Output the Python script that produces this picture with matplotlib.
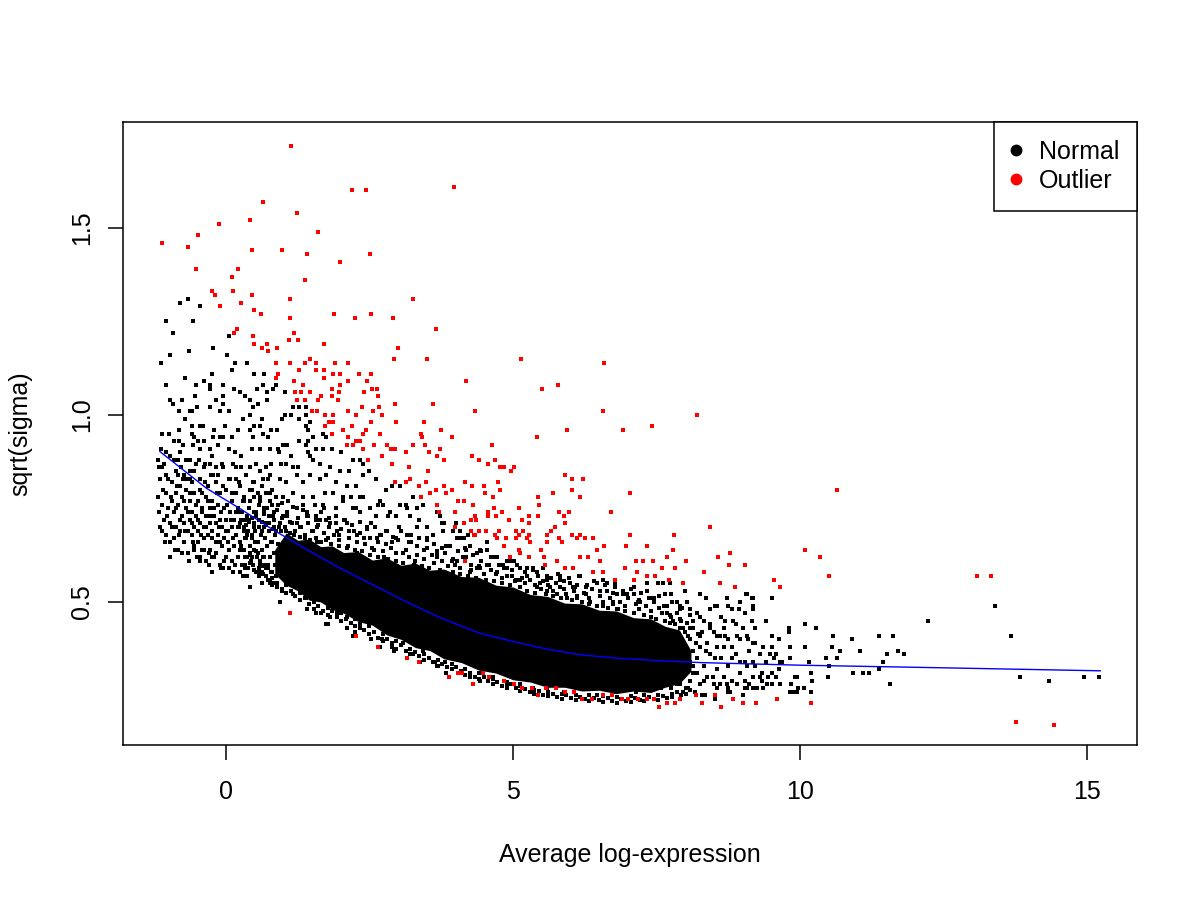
import numpy as np
import matplotlib
matplotlib.use("Agg")
import matplotlib.pyplot as plt
from matplotlib.lines import Line2D

plt.rcParams['font.family'] = ['Liberation Sans', 'DejaVu Sans']

# --- data ----------------------------------------------------------------

# overplotted core of the normal genes (solid black in the original)
core_x = [0.85, 1.05, 1.25, 1.45, 1.65, 1.85, 2.05, 2.30, 2.55, 2.80,
          3.05, 3.30, 3.55, 3.80, 4.10, 4.40, 4.70, 5.00, 5.30, 5.60,
          5.90, 6.20, 6.50, 6.80, 7.10, 7.40, 7.65, 7.90, 8.10]
core_lo = [0.575, 0.545, 0.53, 0.505, 0.50, 0.48, 0.47, 0.448, 0.438, 0.412,
           0.40, 0.378, 0.37, 0.348, 0.338, 0.318, 0.31, 0.292, 0.286, 0.272,
           0.272, 0.262, 0.264, 0.255, 0.262, 0.258, 0.272, 0.282, 0.315]
core_hi = [0.64, 0.685, 0.665, 0.668, 0.648, 0.65, 0.632, 0.635, 0.612, 0.618,
           0.598, 0.604, 0.585, 0.588, 0.568, 0.566, 0.545, 0.54, 0.52, 0.515,
           0.497, 0.495, 0.478, 0.476, 0.458, 0.455, 0.435, 0.425, 0.37]

# normal genes, upper left spread
normal_upper_left = [
    (-0.93, 1.22), (-0.97, 1.16), (-0.64, 1.17), (-1.14, 1.14), (0.02, 1.16),
    (0.15, 1.14), (0.36, 1.14), (-0.23, 1.18), (0.06, 1.21), (-0.24, 1.11),
    (-0.72, 1.10), (-1.05, 1.08), (0.11, 1.12), (0.48, 1.11), (0.67, 1.11),
    (-0.38, 1.09), (-0.27, 1.08), (-0.27, 1.07), (-0.52, 1.08), (-0.05, 1.08),
    (0.14, 1.07), (0.24, 1.06), (-0.06, 1.05), (-0.97, 1.04), (-0.92, 1.03),
    (-0.77, 1.04), (-0.54, 1.05), (-0.51, 1.02), (-0.17, 1.04), (-0.05, 1.03),
    (0.33, 1.05), (0.41, 1.04), (0.54, 1.07), (0.71, 1.06), (0.71, 1.04),
    (0.65, 1.08), (0.82, 1.07), (0.87, 1.08), (1.02, 1.06), (-0.81, 1.01),
    (-0.63, 1.01), (-0.60, 1.01), (-0.28, 1.02), (-0.11, 1.01), (0.05, 1.01),
    (0.30, 0.99), (0.41, 1.00), (0.47, 1.02), (0.56, 1.03), (0.62, 0.99),
    (1.03, 1.00), (0.98, 0.99), (1.17, 1.02), (1.27, 1.02), (1.39, 1.02),
    (1.14, 1.00), (1.27, 0.99), (1.40, 1.00), (1.46, 0.98), (-0.72, 0.99),
    (-0.60, 0.97), (-0.46, 0.97), (-0.40, 0.97), (-0.20, 0.96), (-0.01, 0.97),
    (0.21, 0.96), (0.41, 0.96), (0.48, 0.97), (0.59, 0.97), (0.78, 0.96),
    (0.89, 0.96), (1.39, 0.97), (1.43, 0.96), (-0.81, 0.96), (-0.60, 0.95),
    (-0.55, 0.94), (-0.49, 0.93), (-0.39, 0.93), (-0.23, 0.94), (-0.11, 0.94),
    (-0.05, 0.94), (0.11, 0.94), (0.47, 0.94), (0.64, 0.95), (0.73, 0.94),
    (0.99, 0.92), (1.07, 0.92), (1.28, 0.93), (1.43, 0.93), (1.52, 0.94),
    (1.69, 0.95), (1.75, 0.94), (-0.82, 0.93), (-0.75, 0.92), (-0.57, 0.92),
    (-0.45, 0.91), (-0.28, 0.91), (-0.14, 0.92), (0.05, 0.91), (0.15, 0.90),
    (0.27, 0.89), (0.46, 0.91), (0.59, 0.91), (0.76, 0.91), (0.91, 0.91),
    (0.92, 0.90), (1.14, 0.89), (1.40, 0.92), (1.43, 0.90), (1.57, 0.91),
    (1.69, 0.91), (1.84, 0.91), (2.01, 0.90), (2.21, 0.88), (2.33, 0.88),
    (-1.11, 0.86), (-0.84, 0.88), (-0.63, 0.88), (-0.47, 0.88), (-0.37, 0.87),
    (-0.28, 0.87), (-0.17, 0.86), (-0.05, 0.86), (0.12, 0.87), (0.27, 0.86),
    (0.41, 0.86), (0.53, 0.87), (0.70, 0.86), (0.79, 0.87), (0.96, 0.87),
    (1.05, 0.87), (1.17, 0.86), (1.26, 0.86), (1.46, 0.89), (1.52, 0.88),
    (1.63, 0.87), (1.81, 0.86), (1.98, 0.85), (2.15, 0.85), (2.39, 0.87),
    (2.50, 0.85), (-0.84, 0.84), (-0.75, 0.83), (-0.63, 0.83), (-0.45, 0.83),
    (-0.26, 0.84), (-0.14, 0.84), (0.06, 0.83), (0.18, 0.83), (0.35, 0.84),
    (0.47, 0.82), (0.64, 0.83), (0.76, 0.84), (0.94, 0.83), (1.05, 0.82),
    (1.23, 0.84), (1.34, 0.82), (1.46, 0.84), (1.63, 0.83), (1.75, 0.84),
    (1.92, 0.82), (2.10, 0.81), (2.27, 0.81), (2.39, 0.84), (2.62, 0.83),
    (2.79, 0.80), (2.90, 0.81), (-0.67, 1.31), (-0.80, 1.30), (-0.46, 1.29),
    (-1.04, 1.25), (-0.58, 1.25),
]

# normal genes, denser band on the left
normal_left_band = [
    (-1.17, 0.86), (-1.16, 0.74), (-1.13, 0.91), (-1.12, 0.69), (-1.09, 0.80),
    (-1.07, 0.66), (-1.05, 0.84), (-1.02, 0.73), (-1.00, 0.95), (-0.98, 0.62),
    (-0.96, 0.78), (-0.94, 0.70), (-0.91, 0.88), (-0.89, 0.64), (-0.87, 0.75),
    (-0.85, 0.81), (-0.82, 0.68), (-0.80, 0.72), (-0.78, 0.86), (-0.76, 0.63),
    (-0.73, 0.77), (-0.71, 0.69), (-0.69, 0.83), (-0.66, 0.74), (-0.64, 0.61),
    (-0.62, 0.79), (-0.59, 0.71), (-0.57, 0.66), (-0.55, 0.85), (-0.52, 0.76),
    (-0.50, 0.62), (-0.48, 0.72), (-0.45, 0.80), (-0.43, 0.68), (-0.41, 0.75),
    (-0.38, 0.64), (-0.36, 0.82), (-0.34, 0.70), (-0.31, 0.77), (-0.29, 0.60),
    (-0.27, 0.73), (-0.24, 0.67), (-0.22, 0.84), (-0.20, 0.75), (-0.17, 0.63),
    (-0.15, 0.79), (-0.13, 0.70), (-0.10, 0.66), (-0.08, 0.74), (-0.05, 0.81),
    (-0.03, 0.61), (0.00, 0.69), (0.02, 0.76), (0.05, 0.64), (0.08, 0.72),
    (0.10, 0.79), (0.13, 0.67), (0.15, 0.60), (0.18, 0.74), (0.21, 0.70),
    (0.23, 0.82), (0.26, 0.65), (0.29, 0.77), (0.31, 0.72), (0.34, 0.59),
    (0.37, 0.68), (0.40, 0.75), (0.42, 0.63), (0.45, 0.80), (0.48, 0.70),
    (0.51, 0.66), (0.53, 0.73), (0.56, 0.58), (0.59, 0.78), (0.62, 0.69),
    (0.64, 0.62), (0.67, 0.75), (0.70, 0.71), (0.73, 0.56), (0.76, 0.79),
    (0.79, 0.66), (0.82, 0.73), (0.85, 0.60), (0.88, 0.69), (0.91, 0.76),
    (0.94, 0.71), (1.00, 0.73), (1.04, 0.69), (1.08, 0.77), (1.11, 0.57),
    (1.15, 0.71), (1.19, 0.68), (1.23, 0.75), (1.30, 0.70), (1.34, 0.78),
    (1.38, 0.67), (1.42, 0.73), (1.50, 0.69), (1.55, 0.76), (1.59, 0.66),
    (1.64, 0.72), (1.73, 0.79), (1.77, 0.67), (1.82, 0.71), (1.87, 0.64),
    (1.92, 0.75), (1.97, 0.68), (2.07, 0.72), (2.12, 0.65), (2.17, 0.78),
    (2.23, 0.69), (2.28, 0.63), (2.34, 0.74), (2.40, 0.67), (2.52, 0.71),
    (2.58, 0.64), (2.64, 0.76), (2.70, 0.68), (2.76, 0.62), (2.82, 0.73),
    (2.89, 0.66), (3.02, 0.70), (3.09, 0.63), (3.16, 0.75), (3.23, 0.66),
    (3.30, 0.61), (3.37, 0.72), (3.45, 0.64), (3.60, 0.68), (3.68, 0.62),
    (3.76, 0.71), (3.85, 0.65), (3.94, 0.61), (4.03, 0.67), (3.03, 0.81),
    (3.26, 0.78), (3.14, 0.76), (3.43, 0.76), (3.72, 0.73), (4.01, 0.71),
    (2.97, 0.73), (3.32, 0.70), (3.78, 0.69), (4.07, 0.67), (2.74, 0.76),
    (2.62, 0.73), (2.39, 0.78), (2.27, 0.75), (2.04, 0.78), (1.92, 0.73),
    (1.69, 0.76), (1.57, 0.73), (4.08, 0.69), (4.15, 0.67), (4.21, 0.68),
]

# normal genes where the core thins out on the left
normal_core_left = [
    (0.30, 0.64), (0.33, 0.67), (0.36, 0.62), (0.38, 0.69), (0.41, 0.65),
    (0.44, 0.61), (0.46, 0.67), (0.49, 0.64), (0.51, 0.69), (0.54, 0.62),
    (0.56, 0.66), (0.59, 0.60), (0.61, 0.68), (0.63, 0.64), (0.66, 0.62),
    (0.68, 0.67), (0.70, 0.59), (0.72, 0.65), (0.75, 0.69), (0.77, 0.62),
    (0.79, 0.58), (0.80, 0.66), (0.83, 0.63), (0.86, 0.68), (0.88, 0.60),
    (0.91, 0.655), (0.93, 0.62), (0.96, 0.69), (0.98, 0.59), (1.01, 0.64),
    (0.35, 0.705), (0.47, 0.60), (0.58, 0.70), (0.65, 0.595), (0.74, 0.60),
    (0.82, 0.695), (0.90, 0.575), (0.52, 0.635), (0.42, 0.625), (0.69, 0.705),
]

# more normal genes on the far left
normal_left_extra = [
    (-1.19, 0.78), (-1.19, 0.88), (-1.15, 0.70), (-1.15, 0.83), (-1.12, 0.76),
    (-1.12, 0.95), (-1.08, 0.72), (-1.08, 0.87), (-1.05, 0.68), (-1.05, 0.79),
    (-1.05, 0.90), (-1.01, 0.75), (-1.01, 0.83), (-0.98, 0.66), (-0.98, 0.71),
    (-0.98, 0.89), (-0.94, 0.77), (-0.94, 0.82), (-0.91, 0.67), (-0.91, 0.74),
    (-0.91, 0.93), (-0.87, 0.70), (-0.87, 0.79), (-0.87, 0.85), (-0.84, 0.64),
    (-0.84, 0.76), (-0.80, 0.69), (-0.80, 0.81), (-0.80, 0.90), (-0.77, 0.73),
    (-0.77, 0.78), (-0.73, 0.66), (-0.73, 0.71), (-0.73, 0.84), (-0.70, 0.75),
    (-0.70, 0.80), (-0.70, 0.88), (-0.66, 0.63), (-0.66, 0.69), (-0.63, 0.72),
    (-0.63, 0.77), (-0.63, 0.85), (-0.59, 0.68), (-0.59, 0.74), (-0.59, 0.82),
    (-0.56, 0.64), (-0.56, 0.70), (-0.56, 0.79), (-0.52, 0.73), (-0.52, 0.87),
    (-0.49, 0.66), (-0.49, 0.69), (-0.49, 0.77), (-0.45, 0.62), (-0.45, 0.71),
    (-0.45, 0.83), (-0.42, 0.74), (-0.42, 0.79), (-0.38, 0.67), (-0.38, 0.70),
    (-0.38, 0.86), (-0.35, 0.61), (-0.35, 0.73), (-0.35, 0.78), (-0.31, 0.68),
    (-0.31, 0.81), (-0.28, 0.64), (-0.28, 0.71), (-0.28, 0.75), (-0.24, 0.69),
    (-0.24, 0.77), (-0.24, 0.89), (-0.21, 0.62), (-0.21, 0.73), (-0.17, 0.66),
    (-0.17, 0.71), (-0.17, 0.82), (-0.14, 0.68), (-0.14, 0.76), (-0.10, 0.60),
    (-0.10, 0.72), (-0.10, 0.79), (-0.07, 0.65), (-0.07, 0.70), (-0.07, 0.87),
    (-0.03, 0.67), (-0.03, 0.75), (0.00, 0.62), (0.00, 0.72), (0.00, 0.80),
    (0.04, 0.66), (0.04, 0.69), (0.07, 0.74), (0.07, 0.83), (0.11, 0.61),
    (0.11, 0.70), (0.11, 0.77), (0.14, 0.65), (0.14, 0.72), (0.18, 0.68),
    (0.18, 0.79), (0.18, 0.86), (0.21, 0.62), (0.21, 0.75), (0.25, 0.66),
    (0.25, 0.71), (0.25, 0.81), (0.28, 0.60), (0.28, 0.74), (0.32, 0.64),
    (0.32, 0.69), (0.32, 0.78), (0.35, 0.67), (0.35, 0.84), (0.39, 0.59),
    (0.39, 0.72), (0.42, 0.65), (0.42, 0.77), (0.42, 0.80), (0.46, 0.62),
    (0.46, 0.68), (0.49, 0.74), (0.49, 0.82), (0.53, 0.58), (0.53, 0.66),
    (0.56, 0.63), (0.56, 0.79), (0.60, 0.61), (0.60, 0.77), (0.60, 0.85),
    (0.63, 0.58), (0.63, 0.81), (0.67, 0.60), (0.67, 0.74), (0.70, 0.57),
    (0.70, 0.79), (0.74, 0.59), (0.74, 0.83), (0.77, 0.56), (0.77, 0.77),
    (0.81, 0.58), (0.81, 0.80), (0.84, 0.55), (0.84, 0.74), (0.88, 0.57),
    (0.88, 0.78),
]

# normal genes just above the core
normal_core_top = [
    (0.22, 0.70), (0.22, 0.74), (0.27, 0.72), (0.31, 0.70), (0.31, 0.77),
    (0.36, 0.73), (0.40, 0.715), (0.40, 0.75), (0.45, 0.725), (0.49, 0.71),
    (0.49, 0.78), (0.53, 0.74), (0.58, 0.72), (0.58, 0.76), (0.62, 0.715),
    (0.66, 0.735), (0.66, 0.70), (0.71, 0.75), (0.75, 0.71), (0.75, 0.73),
    (0.80, 0.76), (0.84, 0.70), (0.84, 0.72), (0.89, 0.745), (0.93, 0.70),
    (0.98, 0.725), (0.98, 0.765), (1.02, 0.70), (1.07, 0.74), (1.11, 0.685),
    (1.11, 0.715), (1.16, 0.755), (1.20, 0.69), (1.25, 0.725), (1.29, 0.675),
    (1.29, 0.70), (1.34, 0.745), (1.38, 0.68), (1.43, 0.71), (1.43, 0.73),
    (1.47, 0.665), (1.52, 0.69), (1.56, 0.72), (1.56, 0.67), (1.61, 0.705),
    (1.65, 0.66), (1.65, 0.74), (1.70, 0.685), (1.74, 0.665), (1.79, 0.70),
    (1.79, 0.725), (1.83, 0.655), (1.88, 0.68), (1.92, 0.71), (1.97, 0.65),
    (1.97, 0.665), (2.01, 0.695), (2.06, 0.72), (2.10, 0.645), (2.15, 0.67),
    (2.15, 0.69), (2.19, 0.705), (2.24, 0.64), (2.28, 0.66), (2.33, 0.685),
    (2.33, 0.715), (2.37, 0.635), (2.42, 0.655), (2.46, 0.695), (2.51, 0.625),
    (2.51, 0.67), (2.55, 0.645), (2.60, 0.70), (2.64, 0.62), (2.64, 0.66),
    (2.69, 0.68), (2.73, 0.635), (2.78, 0.655), (2.78, 0.69), (2.82, 0.615),
    (2.87, 0.645), (2.91, 0.675), (2.96, 0.61), (2.96, 0.63), (3.00, 0.665),
    (3.05, 0.69), (3.09, 0.605), (3.14, 0.64), (3.18, 0.66), (3.18, 0.62),
    (3.23, 0.68), (3.27, 0.60), (3.32, 0.625), (3.32, 0.65), (3.36, 0.67),
    (3.41, 0.595), (3.45, 0.615), (3.50, 0.645), (3.50, 0.665), (3.54, 0.59),
    (3.59, 0.625), (3.63, 0.605), (3.63, 0.655), (3.68, 0.635), (3.72, 0.585),
    (3.77, 0.61), (3.77, 0.645), (3.81, 0.63), (3.86, 0.595), (3.90, 0.65),
    (3.95, 0.58), (3.95, 0.615), (3.99, 0.60), (4.04, 0.635), (4.08, 0.575),
    (4.08, 0.59), (4.13, 0.62), (4.17, 0.645), (4.22, 0.57), (4.26, 0.60),
    (4.26, 0.585), (4.31, 0.625), (4.35, 0.565), (4.40, 0.595), (4.44, 0.61),
    (4.44, 0.635), (4.49, 0.575), (4.53, 0.56), (4.58, 0.60), (4.62, 0.585),
    (4.62, 0.62), (4.67, 0.555), (4.71, 0.575), (4.76, 0.60), (4.80, 0.55),
    (4.80, 0.565), (4.85, 0.59), (4.89, 0.61), (4.94, 0.545), (4.98, 0.57),
    (4.98, 0.585), (5.03, 0.555), (5.07, 0.60), (5.12, 0.54), (5.16, 0.565),
    (5.21, 0.58), (5.21, 0.55), (5.25, 0.53), (5.30, 0.56), (5.34, 0.585),
    (5.39, 0.525), (5.39, 0.545), (5.43, 0.57), (5.48, 0.535), (5.52, 0.555),
    (5.52, 0.59), (5.57, 0.52), (5.61, 0.545), (5.66, 0.565), (5.70, 0.515),
    (5.70, 0.53), (5.75, 0.55), (5.79, 0.575), (5.84, 0.51), (5.88, 0.535),
    (5.88, 0.555), (5.93, 0.52), (5.97, 0.565), (6.02, 0.505), (6.06, 0.53),
    (6.11, 0.545), (6.11, 0.515), (6.15, 0.57), (6.20, 0.50), (6.24, 0.525),
    (6.29, 0.545), (6.33, 0.495), (6.33, 0.51), (6.38, 0.535), (6.42, 0.555),
    (6.47, 0.49), (6.51, 0.515), (6.51, 0.53), (6.56, 0.50), (6.60, 0.545),
    (6.65, 0.485), (6.69, 0.51), (6.74, 0.525), (6.74, 0.495), (6.78, 0.54),
    (6.83, 0.48), (6.87, 0.50), (6.92, 0.52), (6.96, 0.475), (6.96, 0.49),
    (7.01, 0.51), (7.05, 0.535), (7.10, 0.47), (7.14, 0.495), (7.19, 0.505),
    (7.19, 0.48), (7.23, 0.525), (7.28, 0.465), (7.32, 0.49), (7.37, 0.51),
    (7.41, 0.46), (7.41, 0.475), (7.46, 0.50), (7.50, 0.455), (7.55, 0.485),
    (7.55, 0.515), (7.59, 0.47), (7.64, 0.45), (7.68, 0.49), (7.73, 0.465),
    (7.73, 0.445), (7.77, 0.50), (7.82, 0.44), (7.86, 0.47), (7.91, 0.43),
    (7.91, 0.455), (7.95, 0.485), (8.00, 0.42), (8.04, 0.445), (8.09, 0.40),
    (8.09, 0.465), (8.13, 0.43), (8.18, 0.39), (8.22, 0.415),
]

# normal genes just below the core
normal_core_bottom = [
    (0.25, 0.64), (0.33, 0.62), (0.33, 0.60), (0.41, 0.605), (0.49, 0.585),
    (0.57, 0.59), (0.57, 0.57), (0.65, 0.575), (0.73, 0.56), (0.81, 0.565),
    (0.81, 0.545), (0.89, 0.55), (0.97, 0.535), (1.05, 0.545), (1.05, 0.525),
    (1.13, 0.53), (1.21, 0.515), (1.29, 0.525), (1.29, 0.505), (1.37, 0.51),
    (1.45, 0.495), (1.53, 0.50), (1.53, 0.48), (1.61, 0.49), (1.69, 0.475),
    (1.77, 0.485), (1.77, 0.465), (1.85, 0.475), (1.93, 0.46), (2.01, 0.47),
    (2.01, 0.45), (2.09, 0.455), (2.17, 0.445), (2.25, 0.455), (2.25, 0.435),
    (2.33, 0.44), (2.41, 0.425), (2.49, 0.435), (2.49, 0.415), (2.57, 0.42),
    (2.65, 0.405), (2.73, 0.415), (2.73, 0.395), (2.81, 0.40), (2.89, 0.39),
    (2.97, 0.395), (2.97, 0.375), (3.05, 0.385), (3.13, 0.37), (3.21, 0.375),
    (3.21, 0.36), (3.29, 0.365), (3.37, 0.355), (3.45, 0.36), (3.45, 0.345),
    (3.53, 0.35), (3.61, 0.34), (3.69, 0.345), (3.69, 0.33), (3.77, 0.335),
    (3.85, 0.325), (3.93, 0.335), (3.93, 0.32), (4.01, 0.325), (4.09, 0.315),
    (4.17, 0.32), (4.17, 0.305), (4.25, 0.31), (4.33, 0.30), (4.41, 0.31),
    (4.41, 0.295), (4.49, 0.30), (4.57, 0.29), (4.65, 0.295), (4.65, 0.28),
    (4.73, 0.285), (4.81, 0.275), (4.89, 0.285), (4.89, 0.27), (4.97, 0.28),
    (5.05, 0.27), (5.13, 0.275), (5.13, 0.262), (5.21, 0.268), (5.29, 0.26),
    (5.37, 0.265), (5.37, 0.255), (5.45, 0.262), (5.53, 0.252), (5.61, 0.26),
    (5.61, 0.248), (5.69, 0.255), (5.77, 0.245), (5.85, 0.255), (5.85, 0.24),
    (5.93, 0.25), (6.01, 0.243), (6.09, 0.252), (6.09, 0.238), (6.17, 0.247),
    (6.25, 0.24), (6.33, 0.25), (6.33, 0.235), (6.41, 0.244), (6.49, 0.238),
    (6.57, 0.248), (6.57, 0.232), (6.65, 0.242), (6.73, 0.236), (6.81, 0.246),
    (6.81, 0.23), (6.89, 0.24), (6.97, 0.235), (7.05, 0.248), (7.05, 0.233),
    (7.13, 0.242), (7.21, 0.237), (7.29, 0.25), (7.29, 0.235), (7.37, 0.245),
    (7.45, 0.24), (7.53, 0.252), (7.53, 0.238), (7.61, 0.248), (7.69, 0.242),
    (7.77, 0.255), (7.77, 0.245), (7.85, 0.26), (7.93, 0.25), (8.01, 0.27),
    (8.01, 0.255), (8.09, 0.265),
]

# normal genes above the core, middle of the range
normal_mid = [
    (1.00, 0.78), (1.17, 0.79), (1.35, 0.76), (1.52, 0.78), (1.70, 0.75),
    (1.87, 0.79), (2.04, 0.77), (2.22, 0.75), (2.33, 0.78), (2.51, 0.75),
    (2.68, 0.77), (2.86, 0.74), (3.03, 0.76), (3.21, 0.73), (3.32, 0.75),
    (3.50, 0.70), (3.67, 0.74), (3.79, 0.71), (3.96, 0.69), (4.11, 0.67),
    (4.25, 0.65), (4.43, 0.64), (4.54, 0.66), (4.72, 0.62), (4.95, 0.61),
    (5.12, 0.59), (5.35, 0.59), (5.59, 0.56), (5.82, 0.57), (6.05, 0.54),
    (6.28, 0.52), (6.52, 0.53), (6.75, 0.50), (1.06, 0.73), (1.23, 0.71),
    (1.41, 0.74), (1.58, 0.70), (1.75, 0.72), (1.93, 0.69), (2.10, 0.71),
    (2.28, 0.68), (2.45, 0.70), (2.63, 0.67), (2.80, 0.69), (2.97, 0.67),
    (3.15, 0.68), (3.32, 0.65), (3.50, 0.67), (3.67, 0.63), (3.84, 0.65),
    (4.02, 0.61), (4.19, 0.62), (4.37, 0.59), (4.54, 0.60), (4.72, 0.58),
    (4.89, 0.59), (5.06, 0.56), (5.24, 0.57), (5.41, 0.54), (5.59, 0.53),
    (5.76, 0.52), (5.94, 0.51), (6.11, 0.51), (6.34, 0.50), (6.57, 0.49),
    (6.81, 0.48), (4.19, 0.64), (4.37, 0.63), (4.54, 0.64), (4.66, 0.62),
    (4.83, 0.60), (5.01, 0.61), (5.24, 0.59), (5.41, 0.58), (5.59, 0.57),
    (5.82, 0.56), (5.99, 0.55), (6.17, 0.57), (6.28, 0.54), (6.46, 0.55),
    (6.63, 0.53), (6.81, 0.52), (6.98, 0.52), (7.21, 0.50), (7.42, 0.51),
    (7.62, 0.55), (7.76, 0.52), (7.91, 0.49), (8.08, 0.48), (8.26, 0.46),
    (8.43, 0.44), (8.61, 0.41), (7.33, 0.55), (7.10, 0.54), (6.78, 0.55),
    (6.57, 0.56), (6.08, 0.54), (5.64, 0.54), (5.82, 0.54), (5.47, 0.55),
    (5.12, 0.56), (4.89, 0.57), (4.72, 0.58), (4.43, 0.59), (4.25, 0.58),
]

# normal genes, right side of the cloud
normal_right = [
    (6.63, 0.55), (6.78, 0.56), (6.92, 0.53), (7.10, 0.52), (7.18, 0.50),
    (7.33, 0.53), (7.45, 0.51), (7.53, 0.55), (7.65, 0.52), (7.74, 0.55),
    (7.85, 0.50), (8.00, 0.53), (8.08, 0.48), (8.26, 0.52), (8.37, 0.51),
    (8.52, 0.49), (8.72, 0.51), (8.81, 0.48), (8.96, 0.50), (9.07, 0.52),
    (9.16, 0.51), (9.19, 0.48), (9.51, 0.51), (9.16, 0.45), (8.14, 0.45),
    (8.29, 0.42), (8.43, 0.43), (8.55, 0.41), (8.69, 0.45), (8.75, 0.40),
    (8.90, 0.41), (9.01, 0.43), (9.10, 0.40), (9.22, 0.39), (9.36, 0.38),
    (9.51, 0.41), (9.54, 0.35), (9.68, 0.34), (9.80, 0.43), (9.83, 0.38),
    (9.83, 0.35), (8.26, 0.38), (8.37, 0.37), (8.52, 0.35), (8.67, 0.38),
    (8.81, 0.35), (8.96, 0.34), (9.07, 0.33), (9.19, 0.34), (9.33, 0.31),
    (9.45, 0.30), (9.59, 0.30), (9.85, 0.28), (9.94, 0.26), (9.83, 0.26),
    (8.20, 0.31), (8.32, 0.29), (8.49, 0.30), (8.61, 0.28), (8.75, 0.27),
    (8.90, 0.28), (9.04, 0.29), (9.19, 0.30), (9.25, 0.27), (9.42, 0.28),
    (9.01, 0.25), (8.35, 0.25), (8.52, 0.25), (8.75, 0.26), (7.68, 0.47),
    (7.79, 0.45), (7.91, 0.48), (7.97, 0.43), (8.05, 0.41), (7.85, 0.40),
    (7.74, 0.37), (7.94, 0.36), (8.08, 0.34), (7.82, 0.33), (8.00, 0.31),
    (8.14, 0.33), (7.91, 0.28), (7.76, 0.27), (8.05, 0.27), (8.17, 0.26),
    (8.26, 0.52), (8.37, 0.51), (8.55, 0.49), (8.72, 0.51), (8.93, 0.48),
    (9.06, 0.52), (9.18, 0.49), (9.19, 0.51), (9.01, 0.43), (8.84, 0.45),
    (8.69, 0.41), (8.90, 0.41), (9.07, 0.41), (9.19, 0.39), (9.36, 0.38),
    (9.48, 0.36), (9.59, 0.36), (9.80, 0.42), (9.83, 0.38), (9.91, 0.30),
    (9.88, 0.26), (9.51, 0.41), (9.65, 0.34), (9.51, 0.31), (9.33, 0.29),
    (9.19, 0.27), (9.04, 0.27), (8.55, 0.27), (8.72, 0.28), (8.29, 0.25),
    (8.52, 0.24),
]

# more normal genes between x = 7.5 and 9.7
normal_right_extra = [
    (7.52, 0.30), (7.52, 0.42), (7.58, 0.27), (7.58, 0.36), (7.63, 0.33),
    (7.63, 0.49), (7.69, 0.29), (7.69, 0.39), (7.75, 0.35), (7.75, 0.46),
    (7.80, 0.31), (7.80, 0.42), (7.86, 0.28), (7.86, 0.37), (7.92, 0.33),
    (7.92, 0.45), (7.97, 0.30), (7.97, 0.39), (8.03, 0.36), (8.03, 0.50),
    (8.09, 0.29), (8.09, 0.43), (8.14, 0.31), (8.14, 0.37), (8.20, 0.35),
    (8.20, 0.47), (8.26, 0.28), (8.26, 0.41), (8.32, 0.33), (8.32, 0.45),
    (8.38, 0.30), (8.38, 0.39), (8.44, 0.36), (8.44, 0.48), (8.50, 0.28),
    (8.50, 0.42), (8.56, 0.32), (8.56, 0.38), (8.62, 0.35), (8.62, 0.46),
    (8.68, 0.30), (8.68, 0.43), (8.75, 0.33), (8.75, 0.49), (8.82, 0.29),
    (8.82, 0.38), (8.89, 0.36), (8.89, 0.44), (8.96, 0.31), (8.96, 0.40),
    (9.04, 0.34), (9.04, 0.47), (9.12, 0.28), (9.12, 0.37), (9.21, 0.33),
    (9.21, 0.43), (9.30, 0.30), (9.30, 0.36), (9.40, 0.34), (9.40, 0.45),
    (9.52, 0.28), (9.52, 0.38), (9.63, 0.32), (9.63, 0.40),
]

# normal genes along the lower edge of the cloud
normal_low = [
    (-0.55, 0.65), (-0.41, 0.64), (-0.45, 0.61), (-0.30, 0.63), (-0.24, 0.62),
    (-0.24, 0.58), (-0.08, 0.59), (-0.05, 0.59), (0.05, 0.59), (0.12, 0.58),
    (0.24, 0.58), (0.29, 0.57), (0.37, 0.57), (0.41, 0.54), (0.62, 0.55),
    (0.77, 0.55), (0.89, 0.54), (0.94, 0.50), (0.98, 0.53), (1.17, 0.52),
    (1.23, 0.54), (1.42, 0.48), (1.39, 0.51), (1.57, 0.47), (1.66, 0.47),
    (1.78, 0.44), (1.81, 0.46), (1.93, 0.47), (2.10, 0.46), (2.24, 0.42),
    (2.34, 0.43), (2.53, 0.40), (2.72, 0.40), (2.90, 0.38), (3.08, 0.39),
    (3.26, 0.36), (3.43, 0.37), (3.64, 0.34), (3.81, 0.34), (4.01, 0.35),
    (1.75, 0.44), (2.10, 0.43), (2.22, 0.41), (2.68, 0.38), (2.92, 0.37),
    (3.15, 0.35), (3.38, 0.34), (3.67, 0.33), (3.84, 0.31), (4.08, 0.31),
    (4.25, 0.30), (4.43, 0.29), (4.66, 0.30), (4.89, 0.28), (5.12, 0.28),
    (5.35, 0.27), (5.59, 0.27), (5.88, 0.26), (6.17, 0.27), (6.46, 0.25),
    (6.75, 0.26), (6.69, 0.27), (6.86, 0.27), (7.15, 0.26), (7.39, 0.27),
    (7.56, 0.27), (7.74, 0.28), (7.97, 0.26), (8.29, 0.25), (8.52, 0.25),
    (8.78, 0.26), (9.07, 0.27), (9.36, 0.27), (9.65, 0.28), (9.94, 0.30),
]

# normal genes in the high-expression tail
normal_tail = [
    (13.40, 0.49), (12.23, 0.45), (13.68, 0.41), (13.83, 0.30), (14.34, 0.29),
    (14.95, 0.30), (15.21, 0.30), (10.09, 0.44), (10.28, 0.43), (10.57, 0.41),
    (10.91, 0.40), (11.38, 0.41), (11.62, 0.41), (10.09, 0.38), (10.56, 0.38),
    (10.70, 0.37), (11.05, 0.37), (11.52, 0.36), (11.71, 0.37), (11.82, 0.36),
    (10.64, 0.35), (10.46, 0.35), (10.16, 0.34), (10.51, 0.33), (11.45, 0.34),
    (10.20, 0.31), (10.49, 0.30), (10.92, 0.31), (11.09, 0.31), (11.21, 0.31),
    (11.38, 0.32), (10.21, 0.29), (10.07, 0.27), (9.97, 0.27), (10.19, 0.26),
    (11.57, 0.28),
]

# outlier genes
outliers = [
    (1.14, 1.72), (2.19, 1.60), (2.44, 1.60), (3.97, 1.61), (0.65, 1.57),
    (1.23, 1.54), (-0.13, 1.51), (0.41, 1.52), (1.61, 1.49), (-0.49, 1.48),
    (-1.11, 1.46), (-0.66, 1.45), (0.45, 1.44), (0.98, 1.44), (1.41, 1.43),
    (1.98, 1.41), (2.51, 1.43), (-0.53, 1.39), (0.21, 1.39), (0.10, 1.37),
    (1.38, 1.36), (-0.24, 1.33), (-0.19, 1.32), (0.13, 1.33), (0.46, 1.32),
    (1.12, 1.31), (3.26, 1.31), (0.27, 1.30), (-0.10, 1.29), (0.49, 1.28),
    (0.61, 1.27), (1.11, 1.26), (1.89, 1.27), (2.24, 1.26), (2.52, 1.27),
    (2.91, 1.26), (3.66, 1.23), (0.20, 1.23), (0.14, 1.22), (1.19, 1.22),
    (0.47, 1.21), (1.10, 1.20), (1.26, 1.20), (0.49, 1.19), (0.63, 1.18),
    (0.72, 1.19), (0.74, 1.17), (0.89, 1.18), (1.71, 1.19), (3.00, 1.18),
    (2.93, 1.15), (3.51, 1.15), (0.88, 1.14), (1.11, 1.14), (1.38, 1.14),
    (1.47, 1.15), (1.57, 1.14), (1.90, 1.14), (2.12, 1.14), (0.91, 1.11),
    (1.27, 1.12), (1.56, 1.12), (1.70, 1.12), (1.87, 1.11), (1.99, 1.11),
    (2.32, 1.11), (2.53, 1.11), (0.87, 1.10), (1.18, 1.09), (1.70, 1.10),
    (2.13, 1.09), (1.34, 1.08), (1.98, 1.08), (2.46, 1.09), (2.55, 1.07),
    (2.63, 1.07), (2.41, 1.06), (1.85, 1.07), (1.97, 1.06), (1.20, 1.06),
    (1.31, 1.06), (1.46, 1.06), (1.66, 1.05), (2.64, 1.05), (1.23, 1.04),
    (1.37, 1.04), (1.60, 1.04), (1.85, 1.05), (1.95, 1.04), (2.94, 1.03),
    (3.61, 1.03), (1.50, 1.01), (1.59, 1.01), (2.12, 1.01), (2.37, 1.02),
    (2.56, 1.01), (2.66, 1.02), (1.73, 1.00), (1.86, 1.00), (2.27, 1.00),
    (2.71, 1.00), (1.80, 0.98), (1.86, 0.98), (2.53, 0.98), (2.97, 0.98),
    (1.73, 0.97), (2.19, 0.97), (2.44, 0.96), (3.45, 0.98), (3.40, 0.95),
    (3.75, 0.96), (2.04, 0.96), (1.85, 0.95), (2.39, 0.95), (3.94, 0.94),
    (2.69, 0.95), (2.13, 0.94), (2.26, 0.93), (2.21, 0.92), (2.33, 0.93),
    (2.11, 0.92), (3.41, 0.94), (3.47, 0.92), (2.57, 0.92), (2.80, 0.92),
    (2.87, 0.91), (3.72, 0.91), (2.94, 0.91), (3.14, 0.90), (3.26, 0.92),
    (2.39, 0.91), (2.72, 0.89), (2.47, 0.88), (3.54, 0.90), (3.68, 0.89),
    (3.80, 0.88), (2.90, 0.87), (3.19, 0.86), (3.52, 0.85), (3.20, 0.83),
    (3.13, 0.82), (3.48, 0.82), (2.95, 0.82), (3.36, 0.81), (3.79, 0.81),
    (3.66, 0.80), (3.56, 0.79), (3.83, 0.79), (3.94, 0.80), (4.04, 0.77),
    (3.40, 0.78), (3.68, 0.76), (3.71, 0.74), (3.99, 0.74), (3.99, 0.70),
    (5.14, 1.15), (6.59, 1.14), (4.18, 1.09), (5.51, 1.07), (5.79, 1.08),
    (4.34, 1.01), (6.57, 1.01), (8.21, 1.00), (7.43, 0.97), (6.92, 0.96),
    (5.42, 0.94), (5.94, 0.96), (4.63, 0.92), (4.29, 0.89), (4.40, 0.88),
    (4.69, 0.88), (4.57, 0.87), (4.77, 0.86), (4.85, 0.86), (5.02, 0.86),
    (4.97, 0.85), (5.90, 0.84), (6.02, 0.83), (6.22, 0.83), (4.16, 0.82),
    (4.29, 0.81), (4.50, 0.81), (4.74, 0.82), (4.78, 0.80), (4.52, 0.79),
    (4.66, 0.78), (5.69, 0.79), (6.02, 0.80), (5.44, 0.78), (6.16, 0.78),
    (7.04, 0.79), (4.15, 0.77), (4.31, 0.76), (5.46, 0.76), (4.57, 0.74),
    (4.67, 0.75), (4.81, 0.74), (5.11, 0.75), (5.44, 0.73), (5.81, 0.74),
    (5.98, 0.74), (6.71, 0.74), (4.34, 0.73), (4.56, 0.73), (4.71, 0.73),
    (5.28, 0.73), (5.16, 0.72), (5.89, 0.73), (4.36, 0.72), (4.27, 0.72),
    (4.14, 0.71), (4.93, 0.72), (5.28, 0.71), (5.73, 0.70), (5.91, 0.71),
    (8.44, 0.70), (4.27, 0.69), (4.41, 0.69), (4.53, 0.69), (4.76, 0.69),
    (5.05, 0.69), (5.18, 0.69), (5.67, 0.69), (5.28, 0.68), (4.69, 0.68),
    (5.60, 0.68), (6.03, 0.68), (6.16, 0.68), (7.03, 0.68), (7.80, 0.68),
    (4.33, 0.68), (5.11, 0.68), (4.87, 0.67), (5.05, 0.67), (5.25, 0.67),
    (5.80, 0.67), (6.11, 0.67), (6.25, 0.67), (6.40, 0.67), (4.72, 0.67),
    (5.30, 0.66), (4.84, 0.65), (5.10, 0.64), (5.49, 0.64), (5.59, 0.66),
    (5.85, 0.66), (6.59, 0.65), (6.47, 0.64), (6.97, 0.65), (7.33, 0.65),
    (7.79, 0.64), (8.57, 0.62), (8.78, 0.63), (8.76, 0.60), (9.05, 0.60),
    (9.55, 0.56), (9.65, 0.54), (8.86, 0.54), (8.61, 0.55), (8.33, 0.58),
    (8.02, 0.61), (7.44, 0.61), (7.59, 0.59), (7.82, 0.59), (7.71, 0.56),
    (7.47, 0.57), (7.96, 0.55), (7.26, 0.61), (7.14, 0.61), (7.16, 0.58),
    (6.96, 0.59), (7.10, 0.56), (7.33, 0.57), (6.78, 0.56), (6.57, 0.58),
    (6.51, 0.61), (6.31, 0.62), (6.16, 0.62), (6.39, 0.58), (5.77, 0.61),
    (5.56, 0.60), (5.91, 0.59), (6.05, 0.59), (5.28, 0.62), (5.54, 0.62),
    (4.95, 0.62), (5.12, 0.63), (4.16, 0.61), (4.32, 0.68), (7.68, 0.62),
    (4.12, 0.31), (4.31, 0.28), (4.48, 0.31), (4.59, 0.30), (4.84, 0.29),
    (5.02, 0.28), (5.16, 0.27), (5.33, 0.27), (5.44, 0.25), (5.57, 0.27),
    (5.75, 0.27), (5.91, 0.26), (6.06, 0.26), (6.20, 0.24), (6.38, 0.24),
    (6.57, 0.25), (6.72, 0.25), (6.90, 0.24), (7.00, 0.24), (7.17, 0.24),
    (7.33, 0.24), (7.46, 0.24), (7.54, 0.22), (7.68, 0.23), (7.82, 0.23),
    (7.91, 0.24), (8.18, 0.25), (8.29, 0.23), (8.52, 0.25), (8.63, 0.22),
    (8.83, 0.24), (9.01, 0.23), (9.23, 0.23), (9.60, 0.24), (1.11, 0.47),
    (2.27, 0.41), (2.65, 0.38), (3.16, 0.35), (3.37, 0.34), (3.89, 0.30),
    (4.04, 0.31), (10.65, 0.80), (10.08, 0.64), (10.34, 0.62), (10.50, 0.57),
    (13.09, 0.57), (13.33, 0.57), (10.19, 0.23), (13.76, 0.18), (14.43, 0.17),
]

# fitted trend (blue line)
trend_x = [-1.15, -0.34, 0.24, 0.82, 1.41, 1.99, 2.57, 3.15, 3.73, 4.43,
           5.01, 5.59, 6.17, 6.86, 7.56, 8.26, 10.0, 12.5, 15.23]
trend_y = [0.902, 0.804, 0.750, 0.693, 0.640, 0.590, 0.545, 0.500, 0.458,
           0.416, 0.394, 0.374, 0.359, 0.349, 0.343, 0.338, 0.331, 0.324, 0.316]

x_ticks = [0, 5, 10, 15]
y_ticks = [0.5, 1.0, 1.5]
y_tick_labels = ['0.5', '1.0', '1.5']
legend_labels = ['Normal', 'Outlier']

# --- plot ------------------------------------------------------------------

fig = plt.figure(figsize=(12, 9), dpi=100)
ax = fig.add_axes([0.1025, 0.1722, 0.845, 0.6922])

ax.fill_between(core_x, core_lo, core_hi, color='black', lw=0)

normal = np.array(normal_upper_left + normal_left_band + normal_core_left
                  + normal_left_extra + normal_core_top + normal_core_bottom
                  + normal_mid + normal_right + normal_right_extra
                  + normal_low + normal_tail)
ax.plot(normal[:, 0], normal[:, 1], ls='none', marker='s', ms=2.2,
        mew=0, color='black')

out = np.array(outliers)
ax.plot(out[:, 0], out[:, 1], ls='none', marker='s', ms=2.2,
        mew=0, color='red')

ax.plot(trend_x, trend_y, color='blue', lw=1.0)

ax.set_xlim(-1.794, 15.871)
ax.set_ylim(0.1176, 1.783)
ax.set_xticks(x_ticks)
ax.set_yticks(y_ticks, labels=y_tick_labels)
ax.tick_params(length=11, width=1.1, labelsize=18, color='black')
ax.tick_params(axis='x', pad=14)
ax.tick_params(axis='y', pad=10, labelrotation=90)
for lab in ax.get_yticklabels():
    lab.set_va('center')
for sp in ax.spines.values():
    sp.set_linewidth(1.1)
    sp.set_color('black')

ax.set_xlabel('Average log-expression', fontsize=18, labelpad=28)
ax.set_ylabel('sqrt(sigma)', fontsize=18)
ax.yaxis.set_label_coords(-0.1015, 0.5)
ax.yaxis.label.set_va('center')

handles = [Line2D([], [], ls='none', marker='o', ms=7.5, color='black'),
           Line2D([], [], ls='none', marker='o', ms=7.5, color='red')]
leg = ax.legend(handles, legend_labels, loc='upper right', borderaxespad=0,
                fontsize=18, fancybox=False, edgecolor='black', framealpha=1,
                handlelength=0.3, handletextpad=0.75, borderpad=0.72,
                labelspacing=0.2)
leg.get_frame().set_linewidth(1.1)

fig.savefig('out.png', dpi=100)
